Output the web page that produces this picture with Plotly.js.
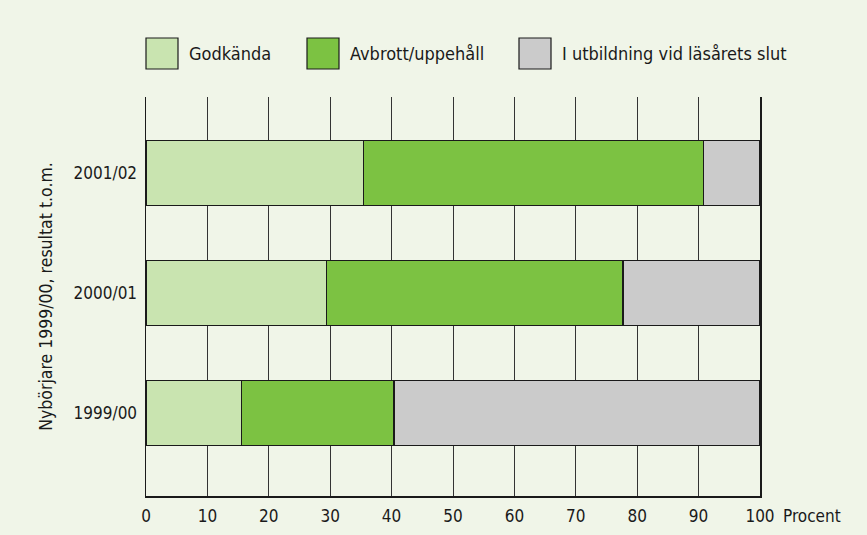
<!DOCTYPE html>
<html>
<head>
<meta charset="utf-8">
<script src="https://cdn.plot.ly/plotly-3.0.1.min.js"></script>
<style>
html,body{margin:0;padding:0;background:#f0f5e8;}
#chart{width:867px;height:535px;}
</style>
</head>
<body>
<div id="chart"></div>
<script>
// Data
const categories = ["1999/00", "2000/01", "2001/02"];
const seriesNames = ["Godkända", "Avbrott/uppehåll", "I utbildning vid läsårets slut"];
const godkanda = [15.5, 29.4, 35.4];
const avbrott = [24.9, 48.3, 55.4];
const iUtbildning = [59.6, 22.3, 9.2];
const xTicks = [0, 10, 20, 30, 40, 50, 60, 70, 80, 90, 100];
const yTitle = "Nybörjare 1999/00, resultat t.o.m.";
const xUnit = "Procent";

const colors = ["#c9e4b0", "#7cc242", "#cbcbcb"];
const FONT = "'Liberation Sans Narrow', 'Arial Narrow', 'DejaVu Sans Condensed', sans-serif";
const values = [godkanda, avbrott, iUtbildning];

const traces = values.map((v, i) => ({
  type: "bar",
  orientation: "h",
  name: seriesNames[i],
  x: v,
  y: categories,
  width: 0.54,
  marker: {color: colors[i], line: {color: "#1a1a1a", width: 1.2}},
  showlegend: false,
  hoverinfo: "x+name"
}));

// custom legend (large boxes)
const legBoxX = [146, 307, 519];
const shapes = [];
const annotations = [];
seriesNames.forEach((n, i) => {
  shapes.push({type: "rect", xref: "paper", yref: "paper",
    x0: (legBoxX[i] - 146) / 614, x1: (legBoxX[i] + 32 - 146) / 614,
    y0: (496 - 69) / 399, y1: (496 - 38) / 399,
    fillcolor: colors[i], line: {color: "#1a1a1a", width: 1.2}});
  annotations.push({xref: "paper", yref: "paper",
    x: (legBoxX[i] + 41 - 146) / 614, y: (496 - 54) / 399,
    xanchor: "left", yanchor: "middle", showarrow: false, text: n,
    font: {family: FONT, size: 18, color: "#1a1a1a"}});
});
annotations.push({xref: "paper", yref: "paper", x: (781 - 146) / 614, y: (496 - 516) / 399,
  xanchor: "left", yanchor: "middle", showarrow: false, text: xUnit,
  font: {family: FONT, size: 17, color: "#1a1a1a"}});

const layout = {
  width: 867, height: 535,
  margin: {l: 146, r: 107, t: 97, b: 39, pad: 0},
  paper_bgcolor: "#f0f5e8",
  plot_bgcolor: "#f0f5e8",
  barmode: "stack",
  font: {family: FONT, size: 17, color: "#1a1a1a"},
  xaxis: {
    range: [0, 100], tickvals: xTicks, ticktext: xTicks.map(String),
    showgrid: true, gridcolor: "#333", gridwidth: 1,
    zeroline: false, showline: true, linecolor: "#1a1a1a", linewidth: 1.5,
    ticks: "outside", ticklen: 4, tickcolor: "rgba(0,0,0,0)", fixedrange: true,
    tickfont: {family: FONT, size: 17, color: "#1a1a1a"}
  },
  yaxis: {
    type: "category", range: [-0.69, 2.63],
    showgrid: false, zeroline: false,
    showline: true, mirror: true, linecolor: "#1a1a1a", linewidth: 1.5,
    ticks: "outside", ticklen: 4, tickcolor: "rgba(0,0,0,0)",
    tickfont: {family: FONT, size: 17, color: "#1a1a1a"},
    title: {text: yTitle, standoff: 16, font: {family: FONT, size: 17.5, color: "#1a1a1a"}}
  },
  shapes: shapes,
  annotations: annotations
};

Plotly.newPlot("chart", traces, layout, {displayModeBar: false, staticPlot: true});
</script>
</body>
</html>
